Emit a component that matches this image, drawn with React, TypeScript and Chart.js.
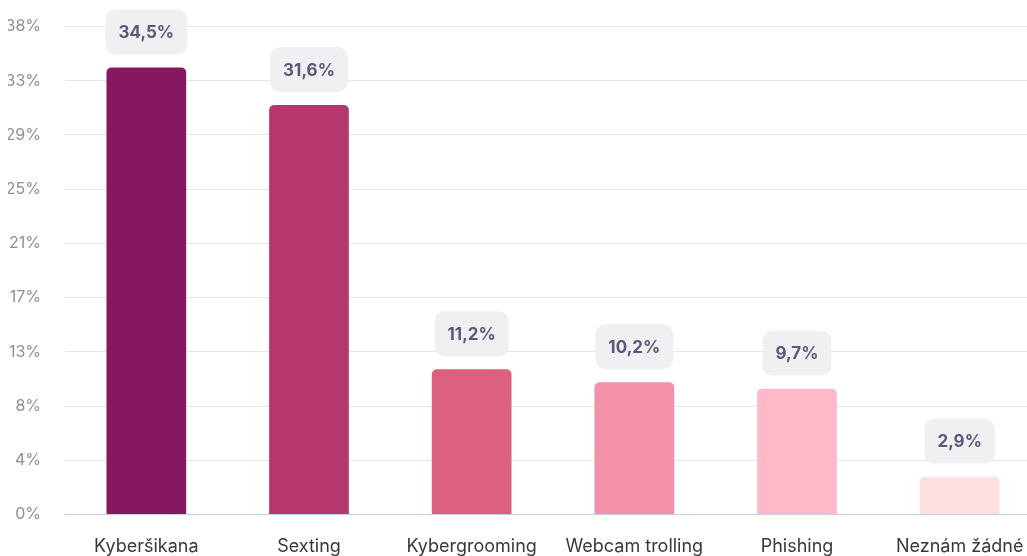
import React, { useEffect, useRef } from "react";
import { Chart, registerables } from "chart.js";

Chart.register(...registerables);

const categories = ["Kyberšikana", "Sexting", "Kybergrooming", "Webcam trolling", "Phishing", "Neznám žádné"];
const values = [34.5, 31.6, 11.2, 10.2, 9.7, 2.9];
const barColors = ["#86185F", "#B6376E", "#DE6081", "#F391A9", "#FFB9C8", "#FFDFE2"];
const yTickLabels = ["0%", "4%", "8%", "13%", "17%", "21%", "25%", "29%", "33%", "38%"];
const yMax = 37.65;

const valueLabelPlugin = {
  id: "valueLabels",
  afterDatasetsDraw(chart: any) {
    const ctx = chart.ctx;
    const meta = chart.getDatasetMeta(0);
    ctx.save();
    ctx.font = "bold 17px Inter, 'Noto Sans', sans-serif";
    ctx.textAlign = "center";
    ctx.textBaseline = "middle";
    meta.data.forEach((bar: any, i: number) => {
      const text = values[i].toFixed(1).replace(".", ",") + "%";
      const tw = ctx.measureText(text).width;
      const w = tw + 26;
      const h = 45;
      const x = bar.x - w / 2;
      const y = bar.y - 13 - h;
      ctx.fillStyle = "#F0F0F2";
      ctx.beginPath();
      (ctx as any).roundRect(x, y, w, h, 10);
      ctx.fill();
      ctx.fillStyle = "#58587A";
      ctx.fillText(text, bar.x, y + h / 2 + 1);
    });
    ctx.restore();
  },
};

export default function App() {
  const ref = useRef<HTMLCanvasElement>(null);
  useEffect(() => {
    document.body.style.overflow = "hidden";
    const chart = new Chart(ref.current!, {
      type: "bar",
      data: {
        labels: categories,
        datasets: [
          {
            data: values,
            backgroundColor: barColors,
            borderRadius: { topLeft: 5, topRight: 5, bottomLeft: 0, bottomRight: 0 },
            borderSkipped: false,
            barPercentage: 0.49,
            categoryPercentage: 1,
          },
        ],
      },
      options: {
        animation: false,
        responsive: true,
        maintainAspectRatio: false,
        layout: { padding: { left: 8, right: 7, top: 11, bottom: 0 } },
        plugins: { legend: { display: false }, tooltip: { enabled: false } },
        scales: {
          x: {
            grid: { display: false, drawTicks: false },
            border: { display: true, color: "#C5CDEB", width: 1 },
            ticks: {
              color: "#38383D",
              padding: 21,
              font: { family: "Inter, 'Noto Sans', sans-serif", size: 18 },
            },
          },
          y: {
            min: 0,
            max: yMax,
            afterFit: (scale: any) => {
              scale.width = 57;
            },
            ticks: {
              count: 10,
              color: "#8E8E99",
              padding: 24,
              font: { family: "Inter, 'Noto Sans', sans-serif", size: 16 },
              callback: (_v: any, i: number) => yTickLabels[i],
            },
            grid: { color: "#E6E6EB", drawTicks: false, lineWidth: 1 },
            border: { display: false },
          },
        },
      },
      plugins: [valueLabelPlugin],
    });
    return () => chart.destroy();
  }, []);
  return (
    <div style={{ position: "absolute", left: 0, top: -7, width: 1048, height: 585 }}>
      <canvas ref={ref} />
    </div>
  );
}
